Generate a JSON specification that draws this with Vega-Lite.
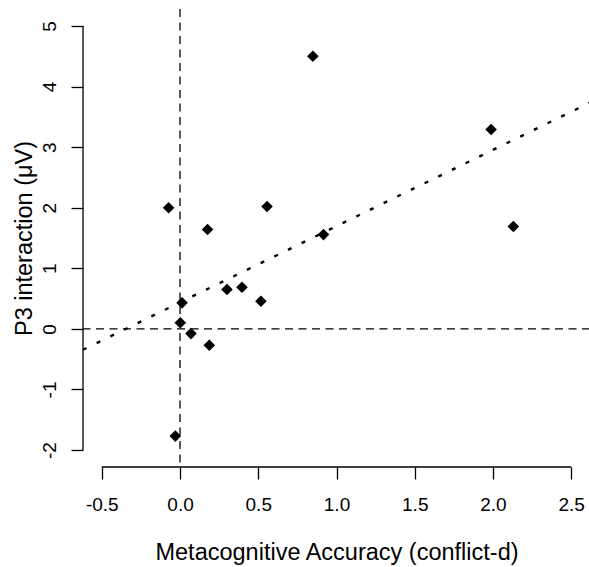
{
  "$schema": "https://vega.github.io/schema/vega-lite/v6.json",
  "width": 507,
  "height": 458,
  "autosize": {"type": "none"},
  "padding": {"left": 83, "top": 9, "right": 0, "bottom": 100},
  "background": "white",
  "config": {
    "view": {"stroke": null},
    "font": "Liberation Sans",
    "axis": {"grid": false, "domain": false, "tickColor": "black", "tickSize": 12, "tickWidth": 1.3, "labelColor": "black", "titleColor": "black", "labelFont": "Liberation Sans", "titleFont": "Liberation Sans", "labelFontSize": 19, "titleFontSize": 23.5, "titleFontWeight": "normal", "labelFlush": false, "labelOverlap": false}
  },
  "datasets": {
    "points": [
      {"x": -0.073, "y": 2.00},
      {"x": 0.176, "y": 1.64},
      {"x": 0.556, "y": 2.02},
      {"x": 0.849, "y": 4.50},
      {"x": 1.988, "y": 3.29},
      {"x": 2.130, "y": 1.69},
      {"x": 0.917, "y": 1.556},
      {"x": 0.013, "y": 0.43},
      {"x": 0.002, "y": 0.10},
      {"x": 0.070, "y": -0.078},
      {"x": 0.187, "y": -0.27},
      {"x": 0.300, "y": 0.65},
      {"x": 0.396, "y": 0.686},
      {"x": 0.517, "y": 0.455},
      {"x": -0.030, "y": -1.77}
    ],
    "fit": [
      {"x": -0.62, "y": -0.344},
      {"x": 2.62, "y": 3.735}
    ]
  },
  "layer": [
    {
      "data": {"name": "points"},
      "mark": {"type": "point", "shape": "diamond", "filled": true, "color": "black", "size": 135, "opacity": 1},
      "encoding": {
        "x": {
          "field": "x", "type": "quantitative",
          "scale": {"domain": [-0.62, 2.62], "nice": false, "zero": false},
          "axis": {"values": [-0.5, 0, 0.5, 1, 1.5, 2, 2.5], "labelExpr": "datum.value < 0 ? '-' + format(-datum.value, '.1f') : format(datum.value, '.1f')", "labelPadding": 16, "title": "Metacognitive Accuracy (conflict-d)", "titleY": 92, "titleBaseline": "alphabetic"}
        },
        "y": {
          "field": "y", "type": "quantitative",
          "scale": {"domain": [-2.28, 5.28], "nice": false, "zero": false},
          "axis": {"values": [-2, -1, 0, 1, 2, 3, 4, 5], "labelExpr": "datum.value < 0 ? '-' + format(-datum.value, 'd') : format(datum.value, 'd')", "labelAngle": -90, "labelAlign": "center", "labelBaseline": "middle", "labelPadding": 22, "title": "P3 interaction (μV)", "titleX": -52, "titleBaseline": "alphabetic", "titleAngle": -90}
        }
      }
    },
    {
      "data": {"values": [{}]},
      "mark": {"type": "rule", "color": "black", "strokeWidth": 1.3, "strokeDash": [8, 5.5]},
      "encoding": {
        "x": {"datum": 0, "type": "quantitative"}
      }
    },
    {
      "data": {"values": [{}]},
      "mark": {"type": "rule", "color": "black", "strokeWidth": 1.3, "strokeDash": [8, 5.5]},
      "encoding": {
        "y": {"datum": 0, "type": "quantitative"}
      }
    },
    {
      "data": {"name": "fit"},
      "mark": {"type": "line", "color": "black", "strokeWidth": 2.4, "strokeDash": [4, 11.2], "clip": true},
      "encoding": {
        "x": {"field": "x", "type": "quantitative"},
        "y": {"field": "y", "type": "quantitative"}
      }
    },
    {
      "data": {"values": [{}]},
      "mark": {"type": "rule", "color": "black", "strokeWidth": 1.3, "clip": false},
      "encoding": {
        "x": {"datum": -0.5, "type": "quantitative"},
        "x2": {"datum": 2.5},
        "y": {"datum": -2.28, "type": "quantitative"}
      }
    },
    {
      "data": {"values": [{}]},
      "mark": {"type": "rule", "color": "black", "strokeWidth": 1.3, "clip": false},
      "encoding": {
        "x": {"datum": -0.62, "type": "quantitative"},
        "y": {"datum": -2, "type": "quantitative"},
        "y2": {"datum": 5}
      }
    }
  ]
}
